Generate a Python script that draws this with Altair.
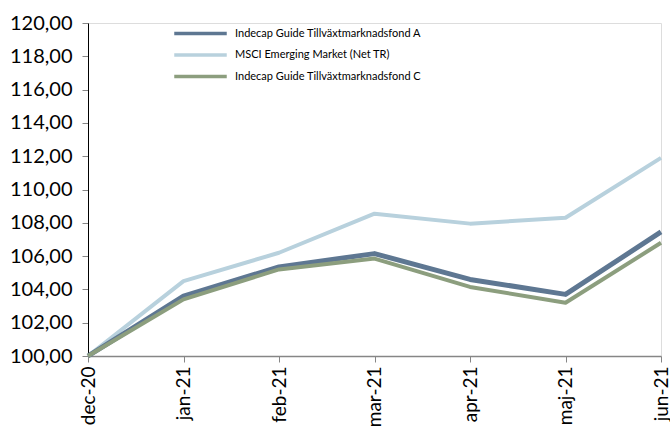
import altair as alt
import pandas as pd

months = ["dec-20", "jan-21", "feb-21", "mar-21", "apr-21", "maj-21", "jun-21"]
fund_a = [100.0, 103.6, 105.35, 106.15, 104.6, 103.7, 107.45]
msci = [100.0, 104.5, 106.2, 108.55, 107.95, 108.3, 111.9]
fund_c = [100.0, 103.4, 105.2, 105.85, 104.15, 103.2, 106.8]

names = ["Indecap Guide Tillväxtmarknadsfond A",
         "MSCI Emerging Market (Net TR)",
         "Indecap Guide Tillväxtmarknadsfond C"]
colors = ["#5E7792", "#B8D1DD", "#8C9E7E"]
widths = [5, 4, 4]

rows = []
for name, vals in zip(names, [fund_a, msci, fund_c]):
    for m, v in zip(months, vals):
        rows.append({"month": m, "value": v, "series": name})
df = pd.DataFrame(rows)

FONT = "Lato"

x = alt.X("month:N", sort=months, title=None,
          scale=alt.Scale(type="point", padding=0),
          axis=alt.Axis(labelAngle=270, labelAlign="right", labelBaseline="middle",
                        labelFontSize=19, labelFont=FONT, labelColor="#000000",
                        domainColor="#868686", tickColor="#868686", tickSize=6,
                        labelPadding=4, grid=False, domainWidth=1.5))
y = alt.Y("value:Q", title=None,
          scale=alt.Scale(domain=[100, 120], nice=False, zero=False),
          axis=alt.Axis(values=list(range(100, 121, 2)),
                        labelExpr="replace(format(datum.value, '.2f'), '.', ',')",
                        labelFontSize=20, labelFont=FONT, labelColor="#000000",
                        domainColor="#000000", tickColor="#868686", tickSize=6,
                        labelPadding=10, grid=False))
color = alt.Color("series:N",
                  scale=alt.Scale(domain=names, range=colors),
                  legend=alt.Legend(title=None, orient="none", legendX=100, legendY=-2,
                                    symbolType="M-2.5,0H2.5", symbolStrokeWidth=3.5,
                                    symbolSize=441, labelFontSize=11, labelFont=FONT,
                                    labelColor="#000000", rowPadding=1.5, labelOffset=22,
                                    labelLimit=0))

layers = []
for i in [1, 0, 2]:
    layers.append(
        alt.Chart(df[df["series"] == names[i]])
        .mark_line(strokeWidth=widths[i], strokeJoin="round")
        .encode(x=x, y=y, color=color)
    )

chart = alt.layer(*layers).properties(
    width=573, height=333,
    autosize=alt.AutoSizeParams(type="none"),
    padding={"left": 88, "top": 23, "right": 9, "bottom": 73},
).configure_view(stroke=None).configure(background="#ffffff")

chart.save("out.html", embed_options={"renderer": "svg", "actions": False})
